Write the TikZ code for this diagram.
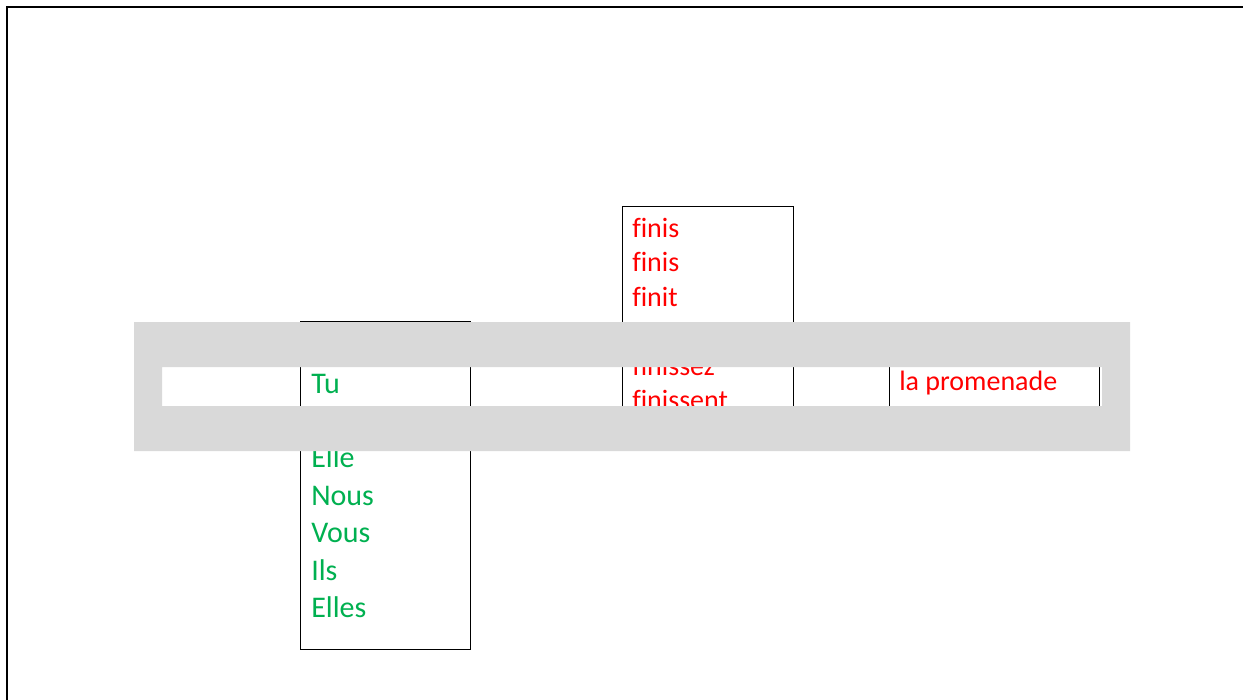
\documentclass[tikz,border=0pt]{standalone}
\usepackage{fontspec}
\setmainfont{Carlito}[Ligatures=NoCommon]
\usepackage{xcolor}
\definecolor{subjgreen}{RGB}{0,176,80}
\definecolor{bandgray}{RGB}{217,217,217}
\tikzset{
  word/.style={anchor=base west, inner sep=0pt},
  pronoun/.style={word, text=subjgreen, font=\fontsize{22.5}{27}\selectfont},
  verbform/.style={word, text=red, font=\fontsize{21}{25}\selectfont},
  column/.style={draw, line width=0.75pt},
}

\begin{document}
\begin{tikzpicture}[x=0.75pt, y=-0.75pt]
\useasboundingbox (0,0) rectangle (1243,700);
% outer frame
\draw[line width=1.5pt] (7,712) -- (7,7) -- (1255,7);
% columns
\draw[column] (300,321) rectangle (470,649);
\draw[column] (622,206) rectangle (793,435);
\draw[column] (889,345) rectangle (1099,425);
% subjects
\foreach \w [count=\i from 0] in {{},Tu,{},Elle,Nous,Vous,Ils,Elles}
  \node[pronoun] (pron\i) at (311,{355.6+37.4*\i}) {\w};
% forms of finir
\foreach \w [count=\i from 0] in {finis,finis,finit,{},finissez,finissent}
  \node[verbform] (fin\i) at (632,{237+34.5*\i}) {\w};
\node[verbform] (objet) at (899,390) {la promenade};
% gray band with window
\fill[bandgray, even odd rule] (134,322) rectangle (1130,451)
  (162,367) rectangle (1102,406);
\end{tikzpicture}
\end{document}
